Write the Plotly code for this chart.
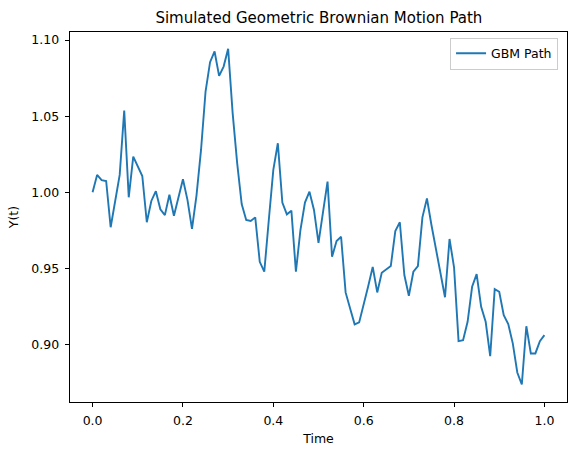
import plotly.graph_objects as go

time = [round(i * 0.01, 2) for i in range(101)]
values = [
    1.0000, 1.0114, 1.0080, 1.0074, 0.9770, 0.9949, 1.0114, 1.0537, 0.9967, 1.0234,
    1.0173, 1.0107, 0.9803, 0.9943, 1.0007, 0.9888, 0.9850, 0.9984, 0.9846, 0.9960,
    1.0086, 0.9950, 0.9759, 0.9980, 1.0278, 1.0662, 1.0855, 1.0925, 1.0765, 1.0826,
    1.0943, 1.0520, 1.0191, 0.9923, 0.9818, 0.9811, 0.9835, 0.9543, 0.9478, 0.9818,
    1.0147, 1.0322, 0.9932, 0.9855, 0.9879, 0.9478, 0.9752, 0.9932, 1.0004, 0.9884,
    0.9668, 0.9870, 1.0070, 0.9576, 0.9680, 0.9708, 0.9342, 0.9237, 0.9132, 0.9145,
    0.9258, 0.9383, 0.9510, 0.9342, 0.9471, 0.9495, 0.9515, 0.9745, 0.9803, 0.9456,
    0.9320, 0.9478, 0.9515, 0.9835, 0.9960, 0.9785, 0.9620, 0.9478, 0.9310, 0.9693,
    0.9507, 0.9022, 0.9028, 0.9149, 0.9379, 0.9462, 0.9247, 0.9149, 0.8923, 0.9364,
    0.9346, 0.9193, 0.9134, 0.9007, 0.8816, 0.8737, 0.9120, 0.8941, 0.8941, 0.9022,
    0.9061,
]
x_ticks = [0.0, 0.2, 0.4, 0.6, 0.8, 1.0]
y_ticks = [0.90, 0.95, 1.00, 1.05, 1.10]

FONT = "DejaVu Sans"

fig = go.Figure()
fig.add_trace(go.Scatter(
    x=time, y=values, mode="lines", name="GBM Path",
    line=dict(color="#1f77b4", width=1.9),
))

axis_common = dict(
    showgrid=False, zeroline=False, showline=True, linecolor="black", linewidth=1,
    mirror=True, ticks="outside", ticklen=4.4, tickwidth=1, tickcolor="black",
    tickfont=dict(family=FONT, size=12.5, color="black"),
)

fig.update_layout(
    width=576, height=455,
    margin=dict(l=70, r=9, t=32, b=53),
    paper_bgcolor="white", plot_bgcolor="white",
    font=dict(family=FONT, size=12.5, color="black"),
    title=dict(text="Simulated Geometric Brownian Motion Path",
               font=dict(family=FONT, size=15, color="black"),
               x=0.5536, xanchor="center", y=0.96, yanchor="middle"),
    xaxis=dict(range=[-0.05, 1.05], tickvals=x_ticks, tickformat=".1f",
               title=dict(text="Time", font=dict(family=FONT, size=12.5), standoff=6),
               ticklabelstandoff=3, **axis_common),
    yaxis=dict(range=[0.8622, 1.1053], tickvals=y_ticks, tickformat=".2f",
               title=dict(text="Y(t)", font=dict(family=FONT, size=12.5), standoff=9),
               ticklabelstandoff=3, **axis_common),
    showlegend=True,
    legend=dict(x=0.982, y=0.9846, xanchor="right", yanchor="top",
                bgcolor="rgba(255,255,255,0.8)", bordercolor="#cccccc", borderwidth=1,
                font=dict(family=FONT, size=12.5, color="black"),
                itemwidth=30),
)

fig.write_html("out.html")
